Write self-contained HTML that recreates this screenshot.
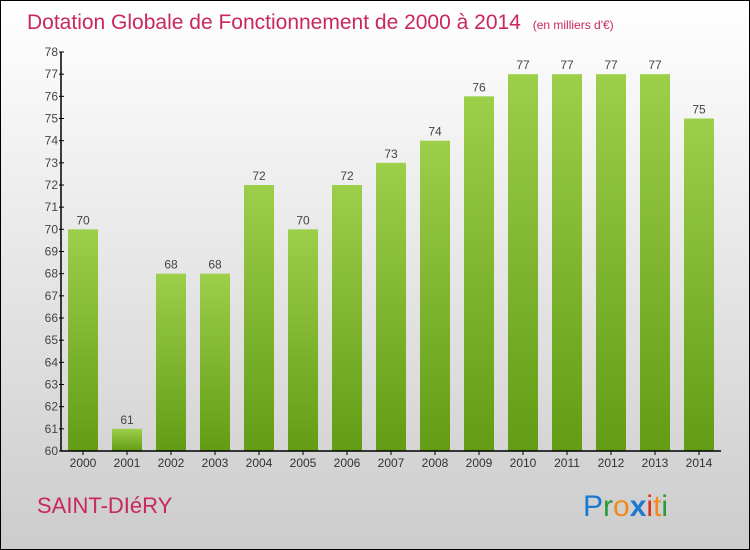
<!DOCTYPE html>
<html><head><meta charset="utf-8"><style>
body{margin:0;width:750px;height:550px;overflow:hidden}
#c{position:absolute;left:0;top:0;width:748px;height:548px;border:1px solid #000;background:linear-gradient(#fff,#ccc);}
</style></head><body>
<div id="c">
<svg id="s" width="748" height="548" style="position:absolute;left:0;top:0;font-family:'Liberation Sans',sans-serif">
<defs><linearGradient id="g" x1="0" y1="0" x2="0" y2="1"><stop offset="0" stop-color="#9ccf4a"/><stop offset="1" stop-color="#639c14"/></linearGradient></defs>
<text x="26" y="28" font-size="21" fill="#c8285a">Dotation Globale de Fonctionnement de 2000 à 2014 <tspan font-size="12" dx="6">(en milliers d'€)</tspan></text>
<text x="36" y="512" font-size="22" fill="#c8285a">SAINT-DIéRY</text>
<text x="582" y="515" font-size="30" fill="#1a7ad0">P<tspan fill="#2a9a3a">r</tspan><tspan fill="#f08a1c">o</tspan><tspan fill="#1a7ad0" font-weight="bold">x</tspan><tspan fill="#e03018">i</tspan><tspan fill="#f08a1c">t</tspan><tspan fill="#2a9a3a">i</tspan></text>
<g id="plot"></g>
</svg></div>
<script>
const years=["2000","2001","2002","2003","2004","2005","2006","2007","2008","2009","2010","2011","2012","2013","2014"];
const values=[70,61,68,68,72,70,72,73,74,76,77,77,77,77,75];
const yTicks=[60,61,62,63,64,65,66,67,68,69,70,71,72,73,74,75,76,77,78];
const NS="http://www.w3.org/2000/svg",p=document.getElementById('plot');
const x0=60,x1=720,yMin=60,yMax=78,yTop=51,yBot=450;
const y=v=>yBot-(v-yMin)/(yMax-yMin)*(yBot-yTop);
const bw=(x1-x0)/years.length;
function mk(t,a){const e=document.createElementNS(NS,t);for(const k in a)e.setAttribute(k,a[k]);p.appendChild(e);return e;}
values.forEach((v,i)=>{const cx=x0+bw*(i+0.5);
const r=mk('rect',{x:cx-15,y:y(v),width:30,height:yBot-y(v),fill:'url(#g)'});


const t=mk('text',{x:cx,y:y(v)-5,'text-anchor':'middle','font-size':12,fill:'#444'});t.textContent=v;


const l=mk('text',{x:cx,y:yBot+16,'text-anchor':'middle','font-size':12,fill:'#333'});l.textContent=years[i];


mk('line',{x1:cx,x2:cx,y1:yBot,y2:yBot+4,stroke:'#000'});});
yTicks.forEach(v=>{const t=mk('text',{x:x0-3,y:y(v)+4,'text-anchor':'end','font-size':12,fill:'#444'});t.textContent=v;


mk('line',{x1:x0-2,x2:x0+3,y1:y(v),y2:y(v),stroke:'#000'});});
const ya=mk('line',{x1:x0,x2:x0,y1:yTop,y2:yBot,stroke:'#000','stroke-width':1.5});


const xa=mk('line',{x1:x0,x2:x1,y1:yBot,y2:yBot,stroke:'#000','stroke-width':1.5});


</script></body></html>
